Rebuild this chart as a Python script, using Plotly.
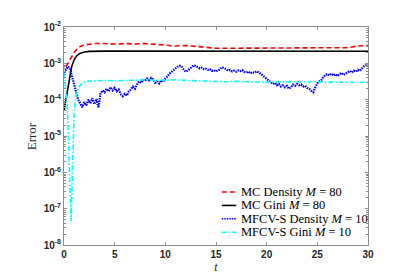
import plotly.graph_objects as go

# ---------------- data ----------------
t_mc_density = [0.2, 0.5, 0.8, 1.0, 1.3, 1.6, 2.0, 2.5, 3, 4, 5, 6, 7, 8, 9, 10, 11, 12, 13, 14,
                15, 16, 17, 18, 19, 20, 21, 22, 23, 24, 25, 26, 27, 28, 29, 30]
mc_density = [8.0e-4, 1.1e-3, 1.6e-3, 2.0e-3, 2.5e-3, 2.9e-3, 3.2e-3, 3.4e-3, 3.5e-3, 3.5e-3,
              3.4e-3, 3.5e-3, 3.4e-3, 3.5e-3, 3.3e-3, 3.2e-3, 3.0e-3, 3.1e-3, 2.9e-3, 2.8e-3,
              2.6e-3, 2.6e-3, 2.6e-3, 2.7e-3, 2.6e-3, 2.7e-3, 2.7e-3, 2.6e-3, 2.7e-3, 2.7e-3,
              2.6e-3, 2.7e-3, 2.7e-3, 2.7e-3, 3.0e-3, 3.1e-3]

t_mc_gini = [0, 0.25, 0.5, 0.75, 1.0, 1.25, 1.5, 1.75, 2.0, 2.5, 3, 4, 5, 10, 15, 20, 25, 30]
mc_gini = [5.0e-5, 1.3e-4, 3.8e-4, 8.0e-4, 1.25e-3, 1.6e-3, 1.85e-3, 1.98e-3, 2.06e-3, 2.13e-3,
           2.16e-3, 2.17e-3, 2.17e-3, 2.17e-3, 2.16e-3, 2.16e-3, 2.16e-3, 2.16e-3]

t_mfcv_density = [round(0.2 * i, 1) for i in range(151)]
mfcv_density_e4 = [
    5.5, 7.0, 8.2, 7.0, 4.5, 2.6, 1.6, 1.0, 0.75, 0.62,
    0.85, 0.7, 1.0, 0.8, 1.1, 0.75, 1.05, 0.6, 1.5, 1.8,
    1.6, 2.0, 1.7, 2.2, 1.8, 2.1, 1.7, 1.9, 1.4, 1.25,
    1.45, 1.3, 1.7, 1.9, 2.3, 2.0, 2.6, 3.2, 2.9, 3.5,
    3.3, 3.8, 3.4, 4.0, 3.6, 2.9, 3.2, 2.8, 3.4, 3.1,
    3.8, 4.3, 5.2, 5.8, 6.8, 7.5, 8.0, 8.6, 8.2, 6.8,
    5.9, 6.3, 7.2, 8.0, 8.8, 8.5, 7.8, 7.2, 7.6, 6.9,
    7.1, 6.6, 6.9, 6.2, 6.5, 6.0, 6.3, 7.0, 7.8, 7.4,
    6.9, 6.3, 6.6, 6.0, 6.3, 5.9, 6.4, 6.1, 6.5, 5.8,
    5.6, 5.9, 5.3, 5.7, 5.5, 6.0, 5.7, 5.2, 4.6, 4.2,
    3.7, 3.3, 3.0, 2.7, 2.9, 2.5, 2.7, 2.3, 2.5, 2.2,
    2.4, 2.0, 2.2, 2.6, 2.4, 2.7, 2.5, 2.6, 2.3, 2.4,
    2.1, 2.0, 1.75, 1.6, 2.2, 2.8, 3.2, 3.5, 4.2, 4.8,
    5.1, 4.7, 5.2, 4.6, 5.0, 4.5, 5.1, 5.4, 4.8, 5.3,
    5.7, 6.2, 5.6, 6.3, 5.9, 6.6, 6.2, 7.2, 8.3, 8.8,
    9.2]
mfcv_density = [v * 1e-4 for v in mfcv_density_e4]

t_mfcv_gini = [0, 0.15, 0.3, 0.4, 0.45, 0.5, 0.6, 0.7, 0.8, 0.85, 0.9, 1.0, 1.2, 1.5, 1.8, 2.2,
               3, 4, 5, 6, 7, 8, 9, 10, 11, 12, 13, 14, 15, 16, 17, 18, 19, 20, 21, 22, 23,
               24, 25, 26, 27, 28, 29, 30]
mfcv_gini = [5.5e-4, 2.5e-4, 8.0e-5, 2.0e-5, 5.0e-6, 1.5e-6, 3.0e-7, 4.5e-8, 6.0e-7, 4.0e-6,
             1.5e-5, 5.0e-5, 1.3e-4, 2.3e-4, 2.9e-4, 3.2e-4,
             3.3e-4, 3.4e-4, 3.3e-4, 3.4e-4, 3.4e-4, 3.5e-4, 3.4e-4, 3.5e-4, 3.5e-4, 3.4e-4,
             3.3e-4, 3.2e-4, 3.2e-4, 3.1e-4, 3.2e-4, 3.1e-4, 3.1e-4, 3.0e-4, 3.1e-4, 3.1e-4,
             3.0e-4, 3.1e-4, 3.0e-4, 3.1e-4, 3.0e-4, 3.1e-4, 3.0e-4, 3.0e-4]

x_ticks = [0, 5, 10, 15, 20, 25, 30]
y_tickvals = [1e-8, 1e-7, 1e-6, 1e-5, 1e-4, 1e-3, 1e-2]
y_ticktext = ["10<sup>-8</sup>", "10<sup>-7</sup>", "10<sup>-6</sup>", "10<sup>-5</sup>",
              "10<sup>-4</sup>", "10<sup>-3</sup>", "10<sup>-2</sup>"]

names = ["MC Density <i>M</i> = 80", "MC Gini <i>M</i> = 80",
         "MFCV-S Density <i>M</i> = 10", "MFCV-S Gini <i>M</i> = 10"]
colors = ["#FF0000", "#000000", "#0000FF", "#00FFFF"]
dashes = ["5px,3px", "solid", "1.5px,1px", "5px,2px,1.5px,2px"]
widths = [1.6, 1.6, 2.2, 1.6]

# ---------------- figure ----------------
fig = go.Figure()
series = [(t_mc_density, mc_density), (t_mc_gini, mc_gini),
          (t_mfcv_density, mfcv_density), (t_mfcv_gini, mfcv_gini)]
for (tx, ty), nm, c, d, w in zip(series, names, colors, dashes, widths):
    fig.add_trace(go.Scatter(x=tx, y=ty, mode="lines", name=nm, showlegend=False,
                             line=dict(color=c, width=w, dash=d)))

axis_color = "#8c8c8c"
tick_font = dict(family="Liberation Sans, Arial, sans-serif", size=10, color="#262626", weight="bold")

fig.update_xaxes(range=[0, 30], tickvals=x_ticks, ticks="inside", ticklen=3,
                 tickcolor=axis_color, showline=True, linecolor=axis_color, linewidth=1,
                 mirror="allticks", showgrid=False, zeroline=False, tickfont=tick_font,
                 title=dict(text="<i>t</i>", font=dict(family="Liberation Serif, serif", size=12,
                                                        color="#262626"), standoff=1))
fig.update_yaxes(type="log", range=[-8, -2], tickvals=y_tickvals, ticktext=y_ticktext,
                 ticks="inside", ticklen=3, tickcolor=axis_color, showline=True,
                 linecolor=axis_color, linewidth=1, mirror="allticks", showgrid=False,
                 zeroline=False, tickfont=tick_font,
                 minor=dict(ticks="inside", ticklen=2, tickcolor=axis_color, dtick="D1",
                            showgrid=False),
                 title=dict(text="Error", font=dict(family="Liberation Serif, serif", size=13,
                                                     color="#262626")))

# Manual legend (placed in pixel-derived paper coordinates)
plot_l, plot_r, plot_t, plot_b = 44, 360, 17, 239
def px_x(px):
    return (px - plot_l) / (plot_r - plot_l)
def px_y(py):
    return (plot_b - py) / (plot_b - plot_t)

# y-axis title positioned as in the reference (further left than plotly's default)
fig.update_yaxes(title_text="")
fig.add_annotation(xref="paper", yref="paper", x=px_x(10), y=px_y(128),
                   xanchor="center", yanchor="middle", showarrow=False, text="Error",
                   textangle=-90,
                   font=dict(family="Liberation Serif, serif", size=13, color="#262626"))

legend_rows = [185, 198.7, 212.3, 226]
for nm, c, d, w, ry in zip(names, colors, dashes, widths, legend_rows):
    fig.add_shape(type="line", xref="paper", yref="paper",
                  x0=px_x(208), x1=px_x(223), y0=px_y(ry), y1=px_y(ry),
                  line=dict(color=c, width=min(w, 1.6), dash=d))
    fig.add_annotation(xref="paper", yref="paper", x=px_x(226), y=px_y(ry),
                       xanchor="left", yanchor="middle", showarrow=False, text=nm,
                       font=dict(family="Liberation Serif, serif", size=12.5, color="#000000"))

fig.update_layout(
    width=415, height=273,
    margin=dict(l=44, r=55, t=17, b=34),
    paper_bgcolor="white", plot_bgcolor="white",
    showlegend=False,
)

fig.write_html("out.html")
